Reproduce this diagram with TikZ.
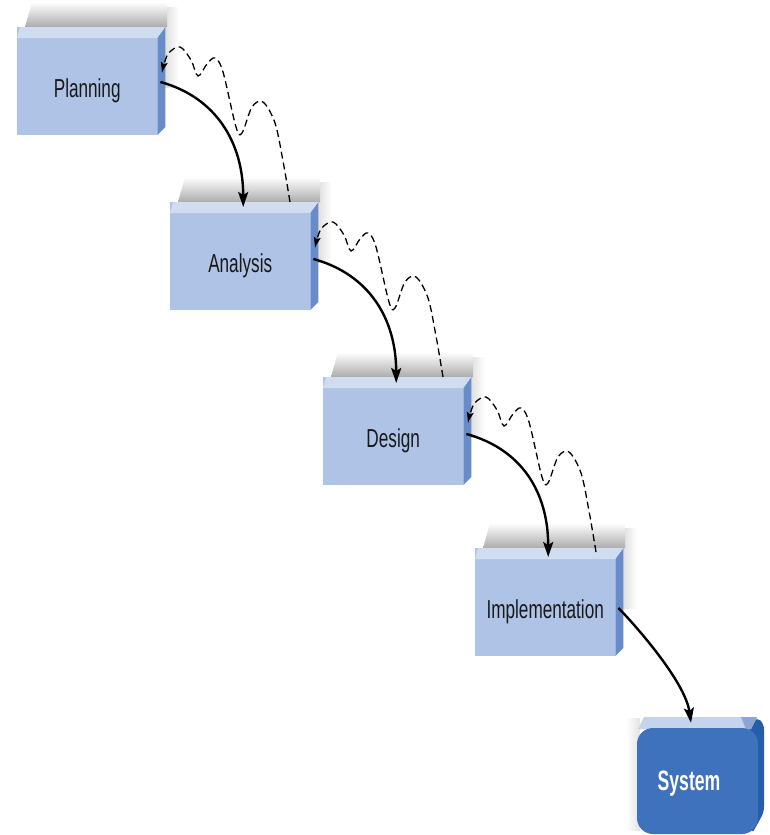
\documentclass[tikz,border=0pt]{standalone}
\usepackage{fontspec}
\setmainfont{Liberation Sans}
\newfontfamily\narrowfont[FakeStretch=0.66]{Liberation Sans}
\newfontfamily\narrowboldfont[FakeStretch=0.63]{Liberation Sans Bold}
\usetikzlibrary{arrows.meta,calc}
\definecolor{frontc}{RGB}{174,195,229}
\definecolor{topc}{RGB}{208,220,240}
\definecolor{sidec}{RGB}{104,140,201}
\definecolor{sysc}{RGB}{62,114,188}
\definecolor{systopc}{RGB}{196,212,236}
\definecolor{syssidec}{RGB}{38,92,170}
\definecolor{sysbevel}{RGB}{140,165,210}
\definecolor{txtc}{RGB}{25,25,25}
\tikzset{
  frontbox/.style={fill=frontc, minimum width=140, minimum height=108, inner sep=0pt, anchor=north west},
  lbl/.style={font=\narrowfont\fontsize{26}{30}\selectfont, text=txtc, inner sep=0pt, text height=19pt, text depth=5.5pt},
  syslbl/.style={font=\narrowboldfont\fontsize{28}{32}\selectfont, text=white, inner sep=0pt, text height=20pt, text depth=6pt},
  sysbox/.style={fill=sysc, minimum width=121, minimum height=106, rounded corners=16, inner sep=0pt},
  flow/.style={line width=2.4pt, -{Stealth[length=15pt,width=10pt,inset=3pt]}},
  feedback/.style={line width=1.3pt, dash pattern=on 7pt off 4pt, -{Stealth[length=10pt,width=7pt,inset=2pt]}},
}
\newcommand\drawstage[4]{%
  \shade[left color=gray!25, right color=white] (#2+148,-#3+20) rectangle (#2+162,-#3-60);
  \shade[top color=white, bottom color=gray!65] (#2+8,-#3) -- (#2+15,-#3+25) -- (#2+150,-#3+25) -- (#2+150,-#3) -- cycle;
  \node[frontbox] (#1) at (#2,-#3) {};
  \fill[topc] ([yshift=-11pt]#1.north west) -- ++(140,0) -- ++(8,11) -- ++(-145,0) -- cycle;
  \fill[sidec] ([yshift=-11pt]#1.north east) -- ++(8,11) -- ++(0,-100) -- ++(-8,-8) -- cycle;
  \node[lbl] (#1L) at ([yshift=-63.5pt]#1.north) {#4};
}
\begin{document}
\begin{tikzpicture}[x=1pt,y=1pt]
\useasboundingbox (0,0) rectangle (769,-835);
\fill[white] (0,0) rectangle (769,-835);

\drawstage{plan}{17}{27}{Planning}
\drawstage{ana}{170}{202}{Analysis}
\drawstage{des}{323}{377}{Design}
\drawstage{impl}{475}{548}{Implementation}

% System
\shade[left color=white, right color=gray!22] (626,-718) rectangle (640,-830);
\fill[syssidec, rounded corners=5] (748,-728) -- (757,-717) -- (764,-724) -- (764,-812) -- (752,-834) -- cycle;
\fill[systopc] (638,-729) -- (644,-717) -- (757,-717) -- (751,-729) -- cycle;
\fill[sysbevel] (741,-717) -- (757,-717) -- (751,-729) -- (746,-729) -- cycle;
\node[sysbox] (sys) at (697.5,-781) {};
\node[syslbl] (sysL) at (689,-783) {System};

% forward flow arrows
\draw[flow] ([xshift=3pt,yshift=-55pt]plan.north east) .. controls +(55,-15) and +(0,65) .. ([xshift=3pt,yshift=-5pt]ana.north);
\draw[flow] ([xshift=3pt,yshift=-57pt]ana.north east) .. controls +(55,-15) and +(0,65) .. ([xshift=3pt,yshift=-6pt]des.north);
\draw[flow] ([xshift=3pt,yshift=-57pt]des.north east) .. controls +(55,-15) and +(0,65) .. ([xshift=3pt,yshift=-9pt]impl.north);
\draw[flow] ([xshift=3pt,yshift=-60pt]impl.north east) .. controls +(14,-14) and +(-6,42) .. ([xshift=-6.5pt,yshift=5pt]sys.north);

% feedback (dashed) arrows
\foreach \b in {plan,ana,des}{
  \begin{scope}[shift={(\b.north west)}]
    \draw[feedback] plot[smooth,tension=0.55] coordinates {(273,-175) (266,-134) (258,-96) (246,-75) (235,-80) (225,-106) (219,-100) (206,-45) (198,-31) (190,-37) (181,-49) (174,-33) (163,-20) (151,-27) (145,-45)};
  \end{scope}
}
\end{tikzpicture}
\end{document}
